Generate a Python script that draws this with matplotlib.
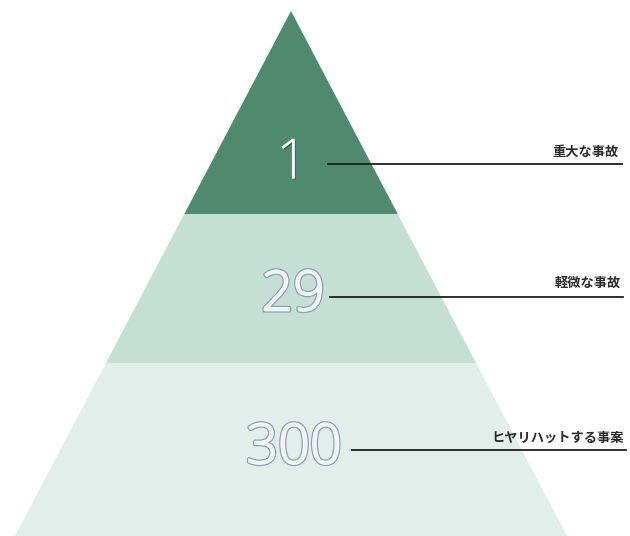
import matplotlib
matplotlib.use("Agg")
import matplotlib.pyplot as plt
from matplotlib.patches import Polygon
import matplotlib.patheffects as pe

plt.rcParams['font.family'] = ['Noto Sans CJK JP', 'DejaVu Sans']

# Data
counts = ["1", "29", "300"]
labels = ["重大な事故", "軽微な事故", "ヒヤリハットする事案"]
tier_colors = ["#4f8a6f", "#c4dfd3", "#e1eeea"]

# Geometry (pixel coordinates)
W, H = 630, 536
apex_x, apex_y = 291, 11
base_y, half_base = 536, 276
bounds = [apex_y, 214, 363, base_y]
num_pos = [(292, 164), (293, 296), (294, 449)]
line_y = [164, 297, 450]
line_x0 = [328, 330, 352]
line_x1 = [622, 623, 626]
label_y = [152, 283, 438]
label_x = [619, 621, 624]

fig = plt.figure(figsize=(W / 100, H / 100), dpi=100)
ax = fig.add_axes([0, 0, 1, 1])
ax.set_xlim(0, W)
ax.set_ylim(H, 0)
ax.axis('off')

def hw(y):
    return (y - apex_y) / (base_y - apex_y) * half_base

for i in range(3):
    y0, y1 = bounds[i], bounds[i + 1]
    pts = [(apex_x - hw(y0), y0), (apex_x + hw(y0), y0),
           (apex_x + hw(y1), y1), (apex_x - hw(y1), y1)]
    ax.add_patch(Polygon(pts, closed=True, facecolor=tier_colors[i], edgecolor='none'))

for i in range(3):
    x, y = num_pos[i]
    if i == 0:
        effects = [pe.withSimplePatchShadow(offset=(1, -1), shadow_rgbFace='#2e5a46', alpha=0.6), pe.Normal()]
    else:
        effects = [pe.Stroke(linewidth=3.0, foreground='#8d9eb2'), pe.Stroke(linewidth=1.2, foreground='#ffffff'), pe.Normal()]
    ax.text(x, y, counts[i], fontsize=40, family='Open Sans', fontweight='light',
            color='white' if i == 0 else '#eef4f6',
            ha='center', va='center', path_effects=effects)
    ax.plot([line_x0[i], line_x1[i]], [line_y[i], line_y[i]], color='#1f1f1f', lw=1.3)
    ax.text(label_x[i], label_y[i], labels[i], fontsize=9.5, color='#2a2a2a', fontweight='bold',
            ha='right', va='center')

fig.savefig('out.png', dpi=100)
